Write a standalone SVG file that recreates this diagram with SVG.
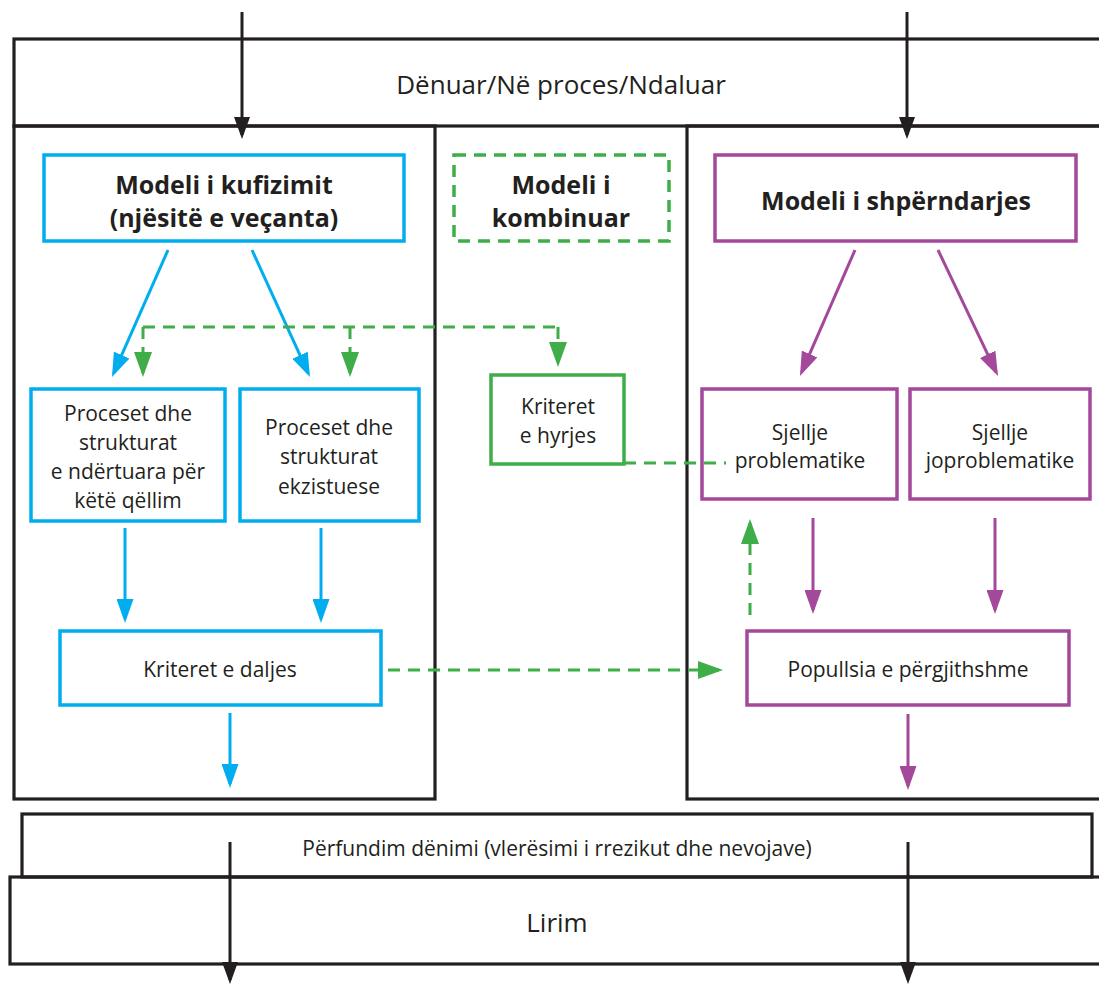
<svg xmlns="http://www.w3.org/2000/svg" width="1099" height="985" viewBox="0 0 1099 985">
<style>
.frame{fill:none;stroke:#231f20;stroke-width:3.2}
.bx{fill:#fff;stroke-width:3.5}
.blue{stroke:#00aeef}
.purple{stroke:#a3489a}
.green{stroke:#3fae49}
.dash{stroke-dasharray:12 8}
.t{font-family:"Open Sans","Noto Sans","Liberation Sans",sans-serif;fill:#231f20;text-anchor:middle}
.b{font-weight:bold;font-size:25px}
.r20{font-size:21px}
.c{fill:none;stroke-width:3}
.k{stroke:#231f20}
</style>
<defs>
<marker id="aK" markerUnits="userSpaceOnUse" markerWidth="22" markerHeight="16" refX="18" refY="8" orient="auto"><path d="M0,0 L22,8 L0,16 z" fill="#231f20"/></marker>
<marker id="aB" markerUnits="userSpaceOnUse" markerWidth="24" markerHeight="17" refX="20" refY="8.5" orient="auto"><path d="M0,0 L24,8.5 L0,17 z" fill="#00aeef"/></marker>
<marker id="aP" markerUnits="userSpaceOnUse" markerWidth="24" markerHeight="17" refX="20" refY="8.5" orient="auto"><path d="M0,0 L24,8.5 L0,17 z" fill="#a3489a"/></marker>
<marker id="aG" markerUnits="userSpaceOnUse" markerWidth="25" markerHeight="18" refX="21" refY="9" orient="auto"><path d="M0,0 L25,9 L0,18 z" fill="#3fae49"/></marker>
</defs>
<g id="frames">
<rect class="frame" x="14" y="39" width="1100" height="87"/>
<rect class="frame" x="14" y="126" width="421" height="673"/>
<rect class="frame" x="687" y="126" width="430" height="673"/>
<rect class="frame" x="22" y="814" width="1070" height="63"/>
<rect class="frame" x="10" y="877" width="1100" height="87"/>
<text class="t" x="561" y="94" font-size="26">Dënuar/Në proces/Ndaluar</text>
<text class="t" x="557" y="856" font-size="21">Përfundim dënimi (vlerësimi i rrezikut dhe nevojave)</text>
<text class="t" x="557" y="932" font-size="26">Lirim</text>
</g>
<g id="n-kufizimit">
<rect class="bx blue" x="44" y="155" width="360" height="86"/>
<text class="t b" x="224" y="194">Modeli i kufizimit</text>
<text class="t b" x="224" y="227">(njësitë e veçanta)</text>
</g>
<g id="n-kombinuar">
<rect class="bx green dash" x="454" y="155" width="215" height="86" stroke-width="3"/>
<text class="t b" x="561" y="194">Modeli i</text>
<text class="t b" x="561" y="227">kombinuar</text>
</g>
<g id="n-shperndarjes">
<rect class="bx purple" x="715" y="155" width="361" height="86"/>
<text class="t b" x="896" y="210">Modeli i shpërndarjes</text>
</g>
<g id="n-proc1">
<rect class="bx blue" x="31" y="389" width="194" height="132"/>
<text class="t r20" x="128" y="421">Proceset dhe</text>
<text class="t r20" x="128" y="450">strukturat</text>
<text class="t r20" x="128" y="479">e ndërtuara për</text>
<text class="t r20" x="128" y="508">këtë qëllim</text>
</g>
<g id="n-proc2">
<rect class="bx blue" x="240" y="389" width="179" height="132"/>
<text class="t r20" x="329" y="435">Proceset dhe</text>
<text class="t r20" x="329" y="464">strukturat</text>
<text class="t r20" x="329" y="494">ekzistuese</text>
</g>
<g id="n-hyrjes">
<rect class="bx green" x="491" y="375" width="133" height="89" stroke-width="3"/>
<text class="t r20" x="558" y="414">Kriteret</text>
<text class="t r20" x="558" y="443">e hyrjes</text>
</g>
<g id="n-sjellje1">
<rect class="bx purple" x="702" y="389" width="195" height="110"/>
<text class="t r20" x="800" y="440">Sjellje</text>
<text class="t r20" x="800" y="468">problematike</text>
</g>
<g id="n-sjellje2">
<rect class="bx purple" x="910" y="389" width="180" height="110"/>
<text class="t r20" x="1000" y="440">Sjellje</text>
<text class="t r20" x="1000" y="468">joproblematike</text>
</g>
<g id="n-daljes">
<rect class="bx blue" x="60" y="631" width="321" height="74"/>
<text class="t r20" x="220" y="677">Kriteret e daljes</text>
</g>
<g id="n-popullsia">
<rect class="bx purple" x="747" y="631" width="322" height="74"/>
<text class="t r20" x="908" y="677">Popullsia e përgjithshme</text>
</g>
<g id="connectors">
<path class="c k" d="M242,12 V135" marker-end="url(#aK)"/>
<path class="c k" d="M907,12 V135" marker-end="url(#aK)"/>
<path class="c k" d="M230,842 V980" marker-end="url(#aK)"/>
<path class="c k" d="M908,842 V980" marker-end="url(#aK)"/>
<path class="c blue" d="M168,250 L113.6,373.3" marker-end="url(#aB)"/>
<path class="c blue" d="M252,250 L308.3,373.4" marker-end="url(#aB)"/>
<path class="c blue" stroke-width="2.6" d="M125,528 V619" marker-end="url(#aB)"/>
<path class="c blue" stroke-width="2.6" d="M321,528 V619" marker-end="url(#aB)"/>
<path class="c blue" stroke-width="2.6" d="M230,713 V784" marker-end="url(#aB)"/>
<path class="c purple" d="M855,250 L801.6,372.3" marker-end="url(#aP)"/>
<path class="c purple" d="M938,250 L996.3,372.4" marker-end="url(#aP)"/>
<path class="c purple" stroke-width="2.6" d="M813,518 V610" marker-end="url(#aP)"/>
<path class="c purple" stroke-width="2.6" d="M995,518 V610" marker-end="url(#aP)"/>
<path class="c purple" stroke-width="2.6" d="M908,714 V786" marker-end="url(#aP)"/>
<path class="c green dash" d="M143,327 H558"/>
<path class="c green dash" d="M143,327 V373" marker-end="url(#aG)"/>
<path class="c green dash" d="M350,327 V373" marker-end="url(#aG)"/>
<path class="c green dash" d="M558,327 V363" marker-end="url(#aG)"/>
<path class="c green dash" d="M624,463 H726"/>
<path class="c green dash" d="M750,615 V523" marker-end="url(#aG)"/>
<path class="c green dash" d="M388,670 H719" marker-end="url(#aG)"/>
</g>
</svg>
